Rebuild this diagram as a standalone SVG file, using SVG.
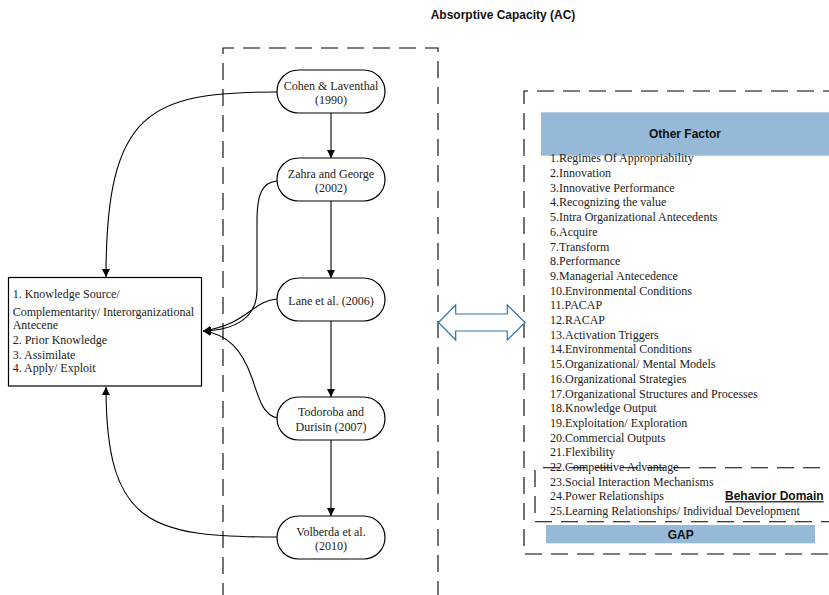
<svg xmlns="http://www.w3.org/2000/svg" width="829" height="595" viewBox="0 0 829 595">
<style>
.node{fill:#fff;stroke:#000;stroke-width:1.2}
.t{font-family:"Liberation Serif","Times New Roman",serif;font-size:12px;fill:#222}
.c{text-anchor:middle}
.h{font-family:"Liberation Sans",Arial,sans-serif;font-size:12px;font-weight:bold;fill:#111}
.dash{fill:none;stroke:#000;stroke-width:1.1;stroke-dasharray:17 9}
.conn{fill:none;stroke:#000;stroke-width:1.1}
.band{fill:#95b9d6}
</style>
<defs>
<marker id="ah" viewBox="0 0 10 10" refX="10" refY="5" markerWidth="8" markerHeight="8" markerUnits="userSpaceOnUse" orient="auto">
<path d="M0,0 L10,5 L0,10 Z" fill="#000"/>
</marker>
</defs>
<rect width="829" height="595" fill="#fff"/>

<text class="h c" x="503" y="19">Absorptive Capacity (AC)</text>

<g id="container-left">
<path class="dash" d="M223,600 L223,48 L438,48 L438,600"/>
</g>

<g id="container-right">
<path class="dash" d="M840,91 L524,91 L524,554 L840,554"/>
</g>

<g id="connectors">
<line class="conn" x1="331" y1="113" x2="331" y2="158" marker-end="url(#ah)"/>
<line class="conn" x1="331" y1="201" x2="331" y2="278" marker-end="url(#ah)"/>
<line class="conn" x1="331" y1="321" x2="331" y2="397" marker-end="url(#ah)"/>
<line class="conn" x1="331" y1="440" x2="331" y2="516" marker-end="url(#ah)"/>
<path class="conn" d="M277,92 C150,92 106,110 106,277" marker-end="url(#ah)"/>
<path class="conn" d="M277,181 C262,182 257,195 257,220 L257,290 C257,318 235,330 203,331" marker-end="url(#ah)"/>
<path class="conn" d="M277,299 C252,301 248,324 203,331" marker-end="url(#ah)"/>
<path class="conn" d="M277,418 C262,414 259,398 252,378 C242,350 228,334 203,331" marker-end="url(#ah)"/>
<path class="conn" d="M277,537 C150,537 106,525 106,387" marker-end="url(#ah)"/>
</g>

<g id="double-arrow">
<path d="M438.5,322.5 L455.7,305 L455.7,314 L507.3,314 L507.3,305 L525,322.5 L507.3,340 L507.3,331 L455.7,331 L455.7,340 Z" fill="#fff" stroke="#2e75b6" stroke-width="1.2"/>
</g>

<g id="node-cohen">
<rect class="node" x="277" y="70" width="108" height="43" rx="21.5"/>
<text class="t c" x="331" y="89.8">Cohen &amp; Laventhal</text>
<text class="t c" x="331" y="104">(1990)</text>
</g>
<g id="node-zahra">
<rect class="node" x="277" y="158" width="108" height="43" rx="21.5"/>
<text class="t c" x="331" y="178.3">Zahra and George</text>
<text class="t c" x="331" y="192.3">(2002)</text>
</g>
<g id="node-lane">
<rect class="node" x="277" y="278" width="108" height="43" rx="21.5"/>
<text class="t c" x="331" y="304.7">Lane et al. (2006)</text>
</g>
<g id="node-todoroba">
<rect class="node" x="277" y="397" width="108" height="43" rx="21.5"/>
<text class="t c" x="331" y="416">Todoroba and</text>
<text class="t c" x="331" y="430.7">Durisin (2007)</text>
</g>
<g id="node-volberda">
<rect class="node" x="277" y="516" width="108" height="43" rx="21.5"/>
<text class="t c" x="331" y="535.7">Volberda et al.</text>
<text class="t c" x="331" y="549.7">(2010)</text>
</g>

<g id="node-ac-components">
<rect class="node" x="8.5" y="277.5" width="193" height="108.5"/>
<text class="t" x="12.7" y="298.3">1. Knowledge Source/</text>
<text class="t" x="12.7" y="315.7">Complementarity/ Interorganizational</text>
<text class="t" x="12.7" y="329">Antecene</text>
<text class="t" x="12.7" y="344">2. Prior Knowledge</text>
<text class="t" x="12.7" y="358.7">3. Assimilate</text>
<text class="t" x="12.7" y="372.3">4. Apply/ Exploit</text>
</g>

<g id="node-other-factor">
<rect class="band" x="541" y="112.3" width="288" height="43.4"/>
<text class="h c" x="685" y="137.5">Other Factor</text>
<g class="t">
<text x="550" y="162.3">1.Regimes Of Appropriability</text>
<text x="550" y="177">2.Innovation</text>
<text x="550" y="191.7">3.Innovative Performance</text>
<text x="550" y="206.4">4.Recognizing the value</text>
<text x="550" y="221.1">5.Intra Organizational Antecedents</text>
<text x="550" y="235.8">6.Acquire</text>
<text x="550" y="250.5">7.Transform</text>
<text x="550" y="265.2">8.Performance</text>
<text x="550" y="279.9">9.Managerial Antecedence</text>
<text x="550" y="294.6">10.Environmental Conditions</text>
<text x="550" y="309.3">11.PACAP</text>
<text x="550" y="324">12.RACAP</text>
<text x="550" y="338.7">13.Activation Triggers</text>
<text x="550" y="353.4">14.Environmental Conditions</text>
<text x="550" y="368.1">15.Organizational/ Mental Models</text>
<text x="550" y="382.8">16.Organizational Strategies</text>
<text x="550" y="397.5">17.Organizational Structures and Processes</text>
<text x="550" y="412.2">18.Knowledge Output</text>
<text x="550" y="426.9">19.Exploitation/ Exploration</text>
<text x="550" y="441.6">20.Commercial Outputs</text>
<text x="550" y="456.3">21.Flexibility</text>
<text x="550" y="471">22.Competitive Advantage</text>
<text x="550" y="485.7">23.Social Interaction Mechanisms</text>
<text x="550" y="500.4">24.Power Relationships</text>
<text x="550" y="515.1">25.Learning Relationships/ Individual Development</text>
</g>
</g>

<g id="node-behavior-domain">
<path class="dash" d="M543,467.7 L840,467.7"/>
<path class="dash" d="M535,470 L535,516"/>
<path class="dash" d="M535,521.7 L840,521.7"/>
<text class="h" x="725" y="500.2" text-decoration="underline">Behavior Domain</text>
</g>

<g id="node-gap">
<rect class="band" x="546" y="525" width="269" height="18.3"/>
<text class="h c" x="680.7" y="538.5">GAP</text>
</g>
</svg>
